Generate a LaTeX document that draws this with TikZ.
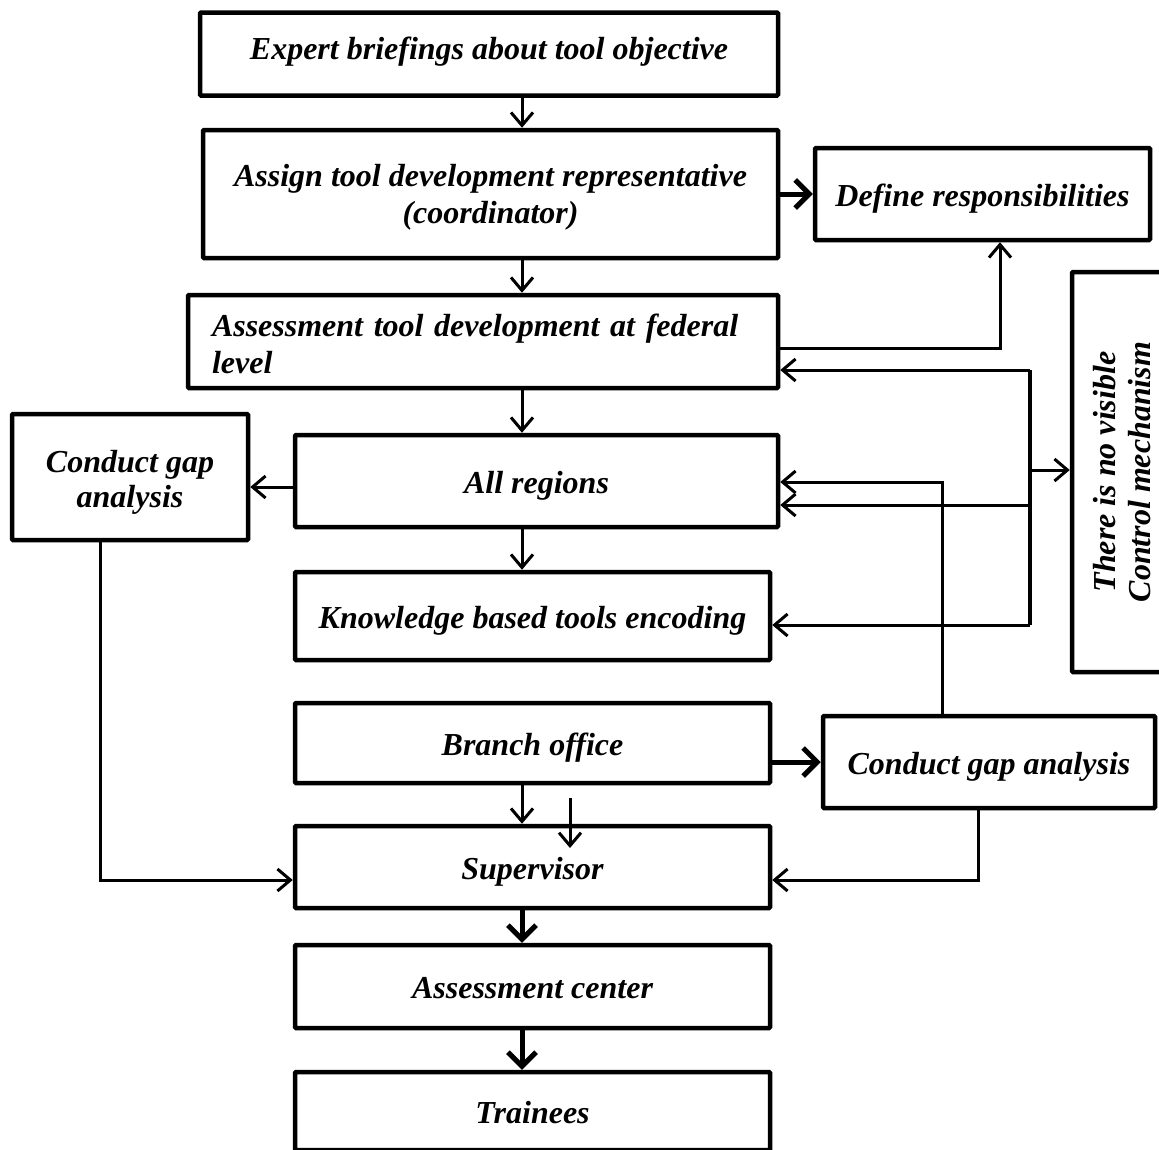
\documentclass[tikz,border=0pt]{standalone}
\usepackage{fontspec}
\setmainfont{Liberation Serif}
\usetikzlibrary{arrows.meta}
\begin{document}
\begin{tikzpicture}[x=1pt,y=-1pt,
 box/.style={draw, line width=4.5pt, rounded corners=1pt, inner sep=0pt, align=center,
   font=\fontsize{32}{37}\selectfont\bfseries\itshape},
 one/.style={text height=31pt, text depth=7pt},
 conn/.style={line width=3pt, -{Straight Barb[length=13pt,width=22pt]}},
 plain/.style={line width=3.5pt},
 thickarr/.style={line width=5pt, -{Straight Barb[length=14pt,width=28pt]}}]
\useasboundingbox (0,0) rectangle (1159,1149);
\clip (0,0) rectangle (1159,1149);

% nodes
\node[box, minimum width=578pt, minimum height=83pt] (expert) at (489,54) {\raisebox{12pt}{Expert briefings about tool objective}};
\node[box, minimum width=575pt, minimum height=128pt] (assign) at (490.5,194) {\rule{0pt}{28pt}Assign tool development representative\\(coordinator)};
\node[box, one, minimum width=335pt, minimum height=92pt] (define) at (982.5,194) {Define responsibilities};
\node[box, minimum width=590pt, minimum height=93pt, text width=542pt, align=left] (assessdev) at (483,341.5) {\rule{0pt}{27pt}Assessment tool development at federal\\level};
\node[box, minimum width=236pt, minimum height=126pt, font=\fontsize{32}{35}\selectfont\bfseries\itshape] (leftgap) at (130,477) {\rule{0pt}{32pt}Conduct gap\\analysis};
\node[box, one, minimum width=483pt, minimum height=92pt] (allreg) at (536.5,481) {All regions};
\node[box, one, minimum width=475pt, minimum height=88pt] (know) at (532.5,616) {Knowledge based tools encoding};
\node[box, one, minimum width=475pt, minimum height=80pt] (branch) at (532.5,743) {Branch office};
\node[box, one, minimum width=332pt, minimum height=92pt] (rightgap) at (989,762) {Conduct gap analysis};
\node[box, one, minimum width=475pt, minimum height=82pt] (sup) at (532.5,867) {Supervisor};
\node[box, one, minimum width=475pt, minimum height=83pt] (center) at (532.5,986.5) {Assessment center};
\node[box, one, minimum width=475pt, minimum height=78pt] (trainees) at (532.5,1111) {Trainees};
\node[box, rotate=90, minimum width=400pt, minimum height=101pt, font=\fontsize{32}{35}\selectfont\bfseries\itshape] (ctrl) at (1122.5,472) {There is no visible\\Control mechanism};

% helper coordinates
\coordinate (c1) at (522,0);
\coordinate (s1) at (570,798);
\coordinate (s2) at (570,848);
\coordinate (d348) at (1000,348);
\coordinate (k370) at (1030,370);
\coordinate (k470) at (1030,470);
\coordinate (k505) at (1030,505);
\coordinate (k625) at (1030,625);
\coordinate (g482) at (942,482);
\coordinate (g880) at (978,880);
\coordinate (l880) at (100,880);
\coordinate (l487) at (0,487);

% vertical main flow
\draw[conn] (expert.south -| c1) -- (assign.north -| c1);
\draw[conn] (assign.south -| c1) -- (assessdev.north -| c1);
\draw[conn] (assessdev.south -| c1) -- (allreg.north -| c1);
\draw[conn] (allreg.south -| c1) -- (know.north -| c1);
\draw[conn] (branch.south -| c1) -- (sup.north -| c1);
\draw[conn] (s1) -- (s2);
\draw[thickarr] (sup.south -| c1) -- (center.north -| c1);
\draw[thickarr] (center.south -| c1) -- (trainees.north -| c1);

% side connectors
\draw[thickarr] (assign.east) -- (define.west);
\draw[thickarr] (rightgap.west -| branch.east) -- (rightgap.west);
\draw[conn] (assessdev.east |- d348) -- (d348) -- (define.south -| d348);

\draw[plain] (k370) -- (k625);
\draw[conn] (k370) -- (assessdev.east |- k370);
\draw[conn] (k505) -- (allreg.east |- k505);
\draw[conn] (k625) -- (know.east |- k625);
\draw[conn] (k470) -- (ctrl.north |- k470);

\draw[conn] (rightgap.north -| g482) -- (g482) -- (allreg.east |- g482);
\draw[conn] (rightgap.south -| g880) -- (g880) -- (sup.east |- g880);
\draw[conn] (leftgap.south -| l880) -- (l880) -- (sup.west |- l880);
\draw[conn] (allreg.west |- l487) -- (leftgap.east |- l487);
\end{tikzpicture}
\end{document}
